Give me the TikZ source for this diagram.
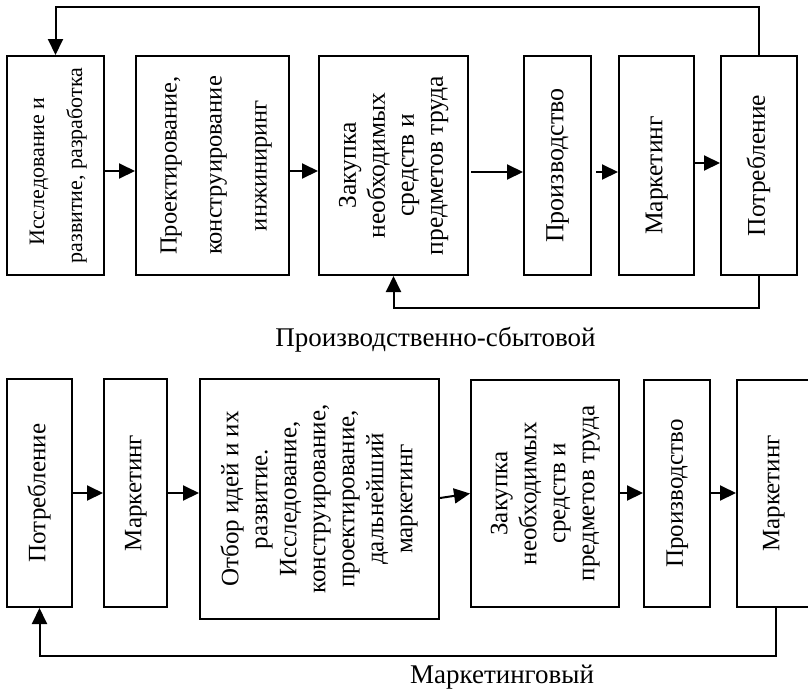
\documentclass[tikz,border=0pt]{standalone}
\usepackage{fontspec}
\setmainfont{Liberation Serif}
\usetikzlibrary{arrows.meta}
\newcommand\vtxt[3]{\rotatebox{90}{\fontsize{#1}{#2}\selectfont\begin{tabular}{@{}c@{}}#3\end{tabular}}}
\begin{document}
\begin{tikzpicture}[x=1pt,y=-1pt,
  box/.style={draw, line width=2pt, inner sep=0pt, align=center},
  arr/.style={line width=2pt, -{Triangle[length=16pt,width=15pt]}},
  captxt/.style={font=\fontsize{27}{31}\selectfont, inner sep=0pt}]
\useasboundingbox (0,0) rectangle (808,691);
% top row
\node[box, minimum width=97pt, minimum height=219pt] (t1) at (55.5,165.5)
  {\vtxt{22}{38}{Исследование и\hspace*{12pt}\\развитие, разработка}};
\node[box, minimum width=153pt, minimum height=219pt] (t2) at (212.5,165.5)
  {\vtxt{24.5}{45}{Проектирование,\\конструирование\\инжиниринг}};
\node[box, minimum width=149pt, minimum height=219pt] (t3) at (393.5,165.5)
  {\vtxt{25.5}{29}{Закупка\\необходимых\\средств и\\предметов труда}};
\node[box, minimum width=67pt, minimum height=219pt] (t4) at (557.5,165.5)
  {\vtxt{26}{29}{Производство}};
\node[box, minimum width=75pt, minimum height=219pt] (t5) at (656.5,165.5)
  {\vtxt{25.5}{29}{Маркетинг\hspace*{20pt}}};
\node[box, minimum width=76pt, minimum height=219pt] (t6) at (759,165.5)
  {\vtxt{25.5}{29}{Потребление}};
\draw[arr] ([yshift=-5.5pt]t1.east) -- ([yshift=-5.5pt]t2.west);
\draw[arr] ([yshift=-5.5pt]t2.east) -- ([yshift=-5.5pt]t3.west);
\draw[arr] ([xshift=2pt,yshift=-6.5pt]t3.east) -- ([yshift=-6.5pt]t4.west);
\draw[arr] ([xshift=4pt,yshift=-6.5pt]t4.east) -- ([yshift=-6.5pt]t5.west);
\draw[arr] ([yshift=2.5pt]t5.east) -- ([yshift=2.5pt]t6.west);
\draw[arr] (t6.north) -- ++(0,-48) -| (t1.north);
\draw[arr] (t6.south) -- ++(0,32) -| (t3.south);
\node[captxt] (c1) at (435.5,340) {Производственно-сбытовой};
% bottom row
\node[box, minimum width=65pt, minimum height=228pt] (m1) at (39.5,493)
  {\vtxt{25}{29}{Потребление}};
\node[box, minimum width=63pt, minimum height=228pt] (m2) at (135.5,493)
  {\vtxt{25}{29}{Маркетинг}};
\node[box, minimum width=239pt, minimum height=240pt] (m3) at (319.5,499)
  {\vtxt{25}{29}{Отбор идей и их\\развитие.\\Исследование,\\конструирование,\\проектирование,\\дальнейший\\маркетинг}};
\node[box, minimum width=148pt, minimum height=227pt] (m4) at (545,493.5)
  {\vtxt{25}{29}{Закупка\\необходимых\\средств и\\предметов труда}};
\node[box, minimum width=66pt, minimum height=227pt] (m5) at (677,493.5)
  {\vtxt{25}{29}{Производство}};
\node[box, minimum width=73pt, minimum height=227pt] (m6) at (773.5,493.5)
  {\vtxt{25}{29}{Маркетинг}};
\draw[arr] (m1.east) -- (m2.west);
\draw[arr] (m2.east) -- ([yshift=6pt]m3.west);
\draw[arr] ([yshift=1pt]m3.east) -- (m4.west);
\draw[arr] ([yshift=0.5pt]m4.east) -- ([yshift=0.5pt]m5.west);
\draw[arr] ([yshift=0.5pt]m5.east) -- ([yshift=0.5pt]m6.west);
\draw[arr] ([xshift=2.5pt]m6.south) -- ++(0,48) -| (m1.south);
\node[captxt] (c2) at (502,677) {Маркетинговый};
\end{tikzpicture}
\end{document}
